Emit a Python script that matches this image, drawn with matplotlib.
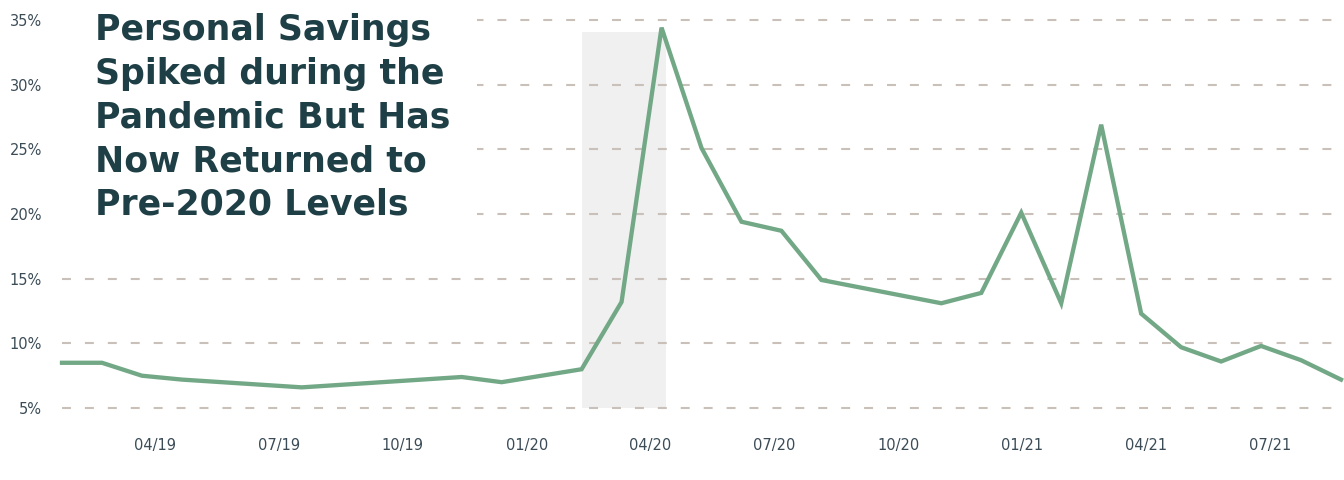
"""
Personal savings rate 2019-2021, line chart with recession shading.
"""
import numpy as np
import matplotlib
matplotlib.use("Agg")
import matplotlib.pyplot as plt
from matplotlib.patches import Rectangle

# monthly data, 01/19 .. 09/21
months = ["01/19", "02/19", "03/19", "04/19", "05/19", "06/19", "07/19", "08/19",
          "09/19", "10/19", "11/19", "12/19", "01/20", "02/20", "03/20", "04/20",
          "05/20", "06/20", "07/20", "08/20", "09/20", "10/20", "11/20", "12/20",
          "01/21", "02/21", "03/21", "04/21", "05/21", "06/21", "07/21", "08/21",
          "09/21"]
savings = [8.5, 8.5, 7.5, 7.2, 7.0, 6.8, 6.6, 6.8, 7.0, 7.2, 7.4, 7.0,
           7.5, 8.0, 13.2, 34.4, 25.1, 19.4, 18.7, 14.9, 14.3, 13.7, 13.1, 13.9,
           20.1, 13.1, 26.9, 12.3, 9.7, 8.6, 9.8, 8.7, 7.2]
tick_labels = ["04/19", "07/19", "10/19", "01/20", "04/20",
               "07/20", "10/20", "01/21", "04/21", "07/21"]
recession = ("02/20", "04/20")
recession_top = 34.1
yticks = [5, 10, 15, 20, 25, 30, 35]

title = ("Personal Savings\nSpiked during the\nPandemic But Has\n"
         "Now Returned to\nPre-2020 Levels")

GREEN = "#72a886"
TEXT = "#3b4c57"
TITLE = "#1f3f46"
GRID = "#c9c1b9"

plt.rcParams["font.family"] = ["DejaVu Sans"]

x = np.arange(len(months))
fig = plt.figure(figsize=(13.44, 4.8), dpi=100)
ax = fig.add_axes([62 / 1344, 59 / 480, (1341 - 62) / 1344, (464 - 59) / 480])

r0, r1 = months.index(recession[0]), months.index(recession[1])
ax.fill_between([r0, r1 + 0.1], 5, recession_top, color="#f0f0f0", lw=0, zorder=1)
ax.plot(x, savings, color=GREEN, lw=3.1, solid_joinstyle="miter",
        clip_on=False, zorder=3)

ax.set_xlim(0, len(months) - 1)
ax.set_ylim(4.0, 35.3)
ax.set_yticks(yticks)
ax.set_yticklabels([f"{v}%" for v in yticks])
# tick labels sit on a slightly wider spacing than the data in the original
ax.set_xticks(2.325 + 3.1 * np.arange(len(tick_labels)))
ax.set_xticklabels(tick_labels)
ax.tick_params(length=0, labelsize=10.5, labelcolor=TEXT)
ax.tick_params(axis="y", pad=14.4)
ax.tick_params(axis="x", pad=12)

ax.grid(axis="y", color=GRID, lw=1.5, ls=(0, (4.3, 6.7)), zorder=0)
ax.grid(axis="x", visible=False)
for s in ax.spines.values():
    s.set_visible(False)

# white panel behind the title hides the upper grid lines
ax.add_patch(Rectangle((55 / 1344, 1 - 245 / 480), (477 - 55) / 1344, 245 / 480,
                       transform=fig.transFigure, facecolor="white",
                       edgecolor="none", zorder=2, clip_on=False))
fig.text(95 / 1344, 1 - 13 / 480, title, ha="left", va="top", fontsize=25,
         fontweight="bold", color=TITLE, linespacing=1.36, zorder=5)

fig.savefig("out.png", dpi=100, facecolor="white")
